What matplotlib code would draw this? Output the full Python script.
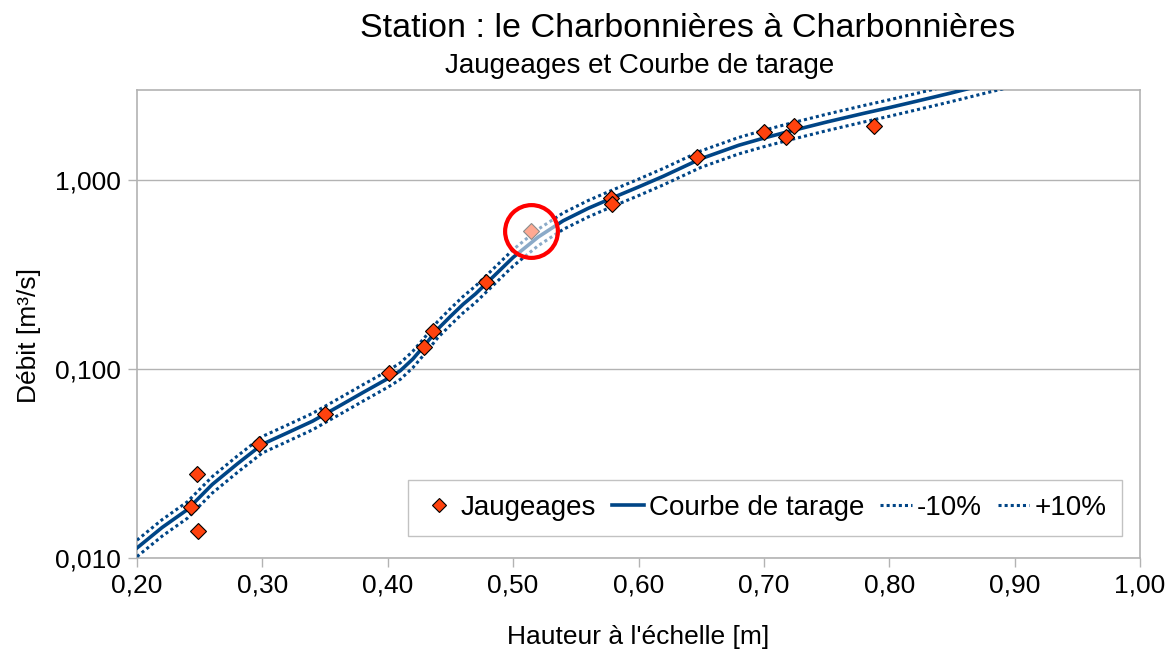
import matplotlib
matplotlib.use("Agg")
import matplotlib.pyplot as plt
from matplotlib.ticker import FixedLocator, NullLocator
import numpy as np

plt.rcParams['font.family'] = ['Liberation Sans', 'DejaVu Sans']

# Jaugeages (gaugings)
jaug_h = [0.248, 0.243, 0.249, 0.297, 0.350, 0.401, 0.429, 0.436, 0.478,
          0.578, 0.579, 0.647, 0.700, 0.718, 0.724, 0.788]
jaug_q = [0.0278, 0.0186, 0.0139, 0.0401, 0.0578, 0.0953, 0.131, 0.159, 0.289,
          0.803, 0.746, 1.32, 1.80, 1.69, 1.93, 1.93]

# Highlighted gauging (circled)
hl_h = [0.514]
hl_q = [0.537]

# Courbe de tarage (rating curve)
curve_h = [0.20, 0.22, 0.24, 0.26, 0.28, 0.30, 0.32, 0.34, 0.36, 0.38, 0.40,
           0.41, 0.42, 0.43, 0.44, 0.45, 0.46, 0.47, 0.48, 0.50, 0.52, 0.54,
           0.56, 0.58, 0.60, 0.62, 0.65, 0.68, 0.70, 0.72, 0.75, 0.78, 0.80,
           0.82, 0.85, 0.88, 0.90]
curve_q = [0.0113, 0.0145, 0.0180, 0.0245, 0.0315, 0.040, 0.046, 0.053, 0.063, 0.075, 0.089,
           0.098, 0.113, 0.135, 0.163, 0.19, 0.22, 0.25, 0.29, 0.39, 0.50, 0.61,
           0.71, 0.81, 0.92, 1.05, 1.30, 1.53, 1.67, 1.81, 2.03, 2.26, 2.42,
           2.60, 2.90, 3.25, 3.50]

minus_pct = 0.10
plus_pct = 0.10

x_ticks = [0.2, 0.3, 0.4, 0.5, 0.6, 0.7, 0.8, 0.9, 1.0]
x_labels = ["0,20", "0,30", "0,40", "0,50", "0,60", "0,70", "0,80", "0,90", "1,00"]
y_ticks = [0.01, 0.1, 1.0]
y_labels = ["0,010", "0,100", "1,000"]

blue = "#004586"
orange = "#FF420E"
grey = "#b3b3b3"

fig = plt.figure(figsize=(11.68, 6.52), dpi=100)
ax = fig.add_axes([137/1168, 1-558/652, (1140-137)/1168, (558-90)/652])

cq = np.array(curve_q)
ax.plot(curve_h, cq * (1 - minus_pct), color=blue, lw=2.2, ls=(0, (1, 1)), label="-10%", zorder=3)
ax.plot(curve_h, cq * (1 + plus_pct), color=blue, lw=2.2, ls=(0, (1, 1)), label="+10%", zorder=3)
ax.plot(curve_h, cq, color=blue, lw=2.6, label="Courbe de tarage", zorder=4)
ax.plot(jaug_h, jaug_q, ls="none", marker="D", ms=8.5, mfc=orange, mec="black", mew=0.8,
        label="Jaugeages", zorder=5)
ax.plot(hl_h, hl_q, ls="none", marker="D", ms=8.5, mfc=orange, mec="black", mew=0.8, zorder=5)
# highlight circle (pale overlay + red ring)
ax.plot(hl_h, hl_q, ls="none", marker="o", ms=38, mfc=(1, 1, 1, 0.55), mec="#ff0000", mew=3.0, zorder=6)

ax.set_yscale("log")
ax.set_xlim(0.2, 1.0)
ax.set_ylim(0.01, 3.0)
ax.yaxis.set_major_locator(FixedLocator(y_ticks))
ax.yaxis.set_minor_locator(NullLocator())
ax.set_yticklabels(y_labels)
ax.set_xticks(x_ticks)
ax.set_xticklabels(x_labels)
ax.tick_params(axis="both", labelsize=19, colors=grey, labelcolor="black", length=6.5, width=1, pad=5)
ax.grid(axis="y", color=grey, lw=1)
ax.set_axisbelow(True)
for s in ax.spines.values():
    s.set_color(grey)
    s.set_linewidth(1.2)

ax.set_xlabel("Hauteur à l'échelle [m]", fontsize=19)
ax.xaxis.set_label_coords(0.5, -(637 - 558) / 468, transform=ax.transAxes)
ax.xaxis.label.set_va("center")
ax.set_ylabel("Débit [m³/s]", fontsize=19)
ax.yaxis.set_label_coords(-(137 - 29) / 1003, 0.5 - (335 - 324) / 468, transform=ax.transAxes)
ax.yaxis.label.set_va("center")

fig.text(688/1168, 1-37/652, "Station : le Charbonnières à Charbonnières", fontsize=24.5,
         ha="center", va="baseline")
fig.text(640/1168, 1-73/652, "Jaugeages et Courbe de tarage", fontsize=20,
         ha="center", va="baseline")

handles, labels = ax.get_legend_handles_labels()
order = [3, 2, 0, 1]
leg = ax.legend([handles[i] for i in order], [labels[i] for i in order], ncol=4,
                loc="lower right", bbox_to_anchor=((1122 - 137) / 1003, (558 - 536) / 468),
                borderaxespad=0, fontsize=20, frameon=True,
                fancybox=False, edgecolor=grey, handlelength=1.15, handletextpad=0.2,
                columnspacing=0.55, borderpad=0.54, markerscale=0.8)
leg.get_frame().set_linewidth(1.0)

fig.savefig("out.png", dpi=100)
